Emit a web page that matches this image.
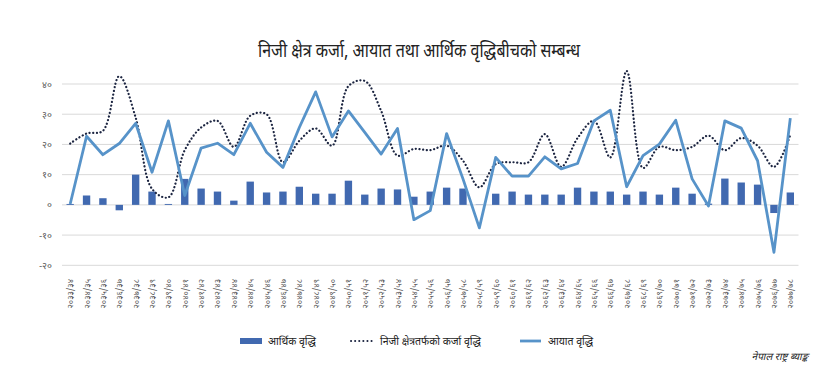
<!DOCTYPE html>
<html>
<head>
<meta charset="utf-8">
<script src="https://cdn.jsdelivr.net/npm/d3@7"></script>
<style>
  body { margin: 0; background: #fff; }
  text { font-family: "Noto Sans Devanagari", "Noto Sans", sans-serif; }
</style>
</head>
<body>
<div id="chart"></div>
<script>
const years = [
  '२०३३/३४', '२०३४/३५', '२०३५/३६', '२०३६/३७', '२०३७/३८', '२०३८/३९', '२०३९/४०', '२०४०/४१', '२०४१/४२',
  '२०४२/४३', '२०४३/४४', '२०४४/४५', '२०४५/४६', '२०४६/४७', '२०४७/४८', '२०४८/४९', '२०४९/५०', '२०५०/५१',
  '२०५१/५२', '२०५२/५३', '२०५३/५४', '२०५४/५५', '२०५५/५६', '२०५६/५७', '२०५७/५८', '२०५८/५९', '२०५९/६०',
  '२०६०/६१', '२०६१/६२', '२०६२/६३', '२०६३/६४', '२०६४/६५', '२०६५/६६', '२०६६/६७', '२०६७/६८', '२०६८/६९',
  '२०६९/७०', '२०७०/७१', '२०७१/७२', '२०७२/७३', '२०७३/७४', '२०७४/७५', '२०७५/७६', '२०७६/७७', '२०७७/७८'
]

// आर्थिक वृद्धि
const gdpGrowth = [
  0.3, 3.1, 2.2, -1.8, 10.0, 4.4, 0.3, 8.6, 5.4, 4.4, 1.4, 7.7, 4.1, 4.4, 6.0,
  3.7, 3.7, 8.0, 3.4, 5.4, 5.1, 2.7, 4.4, 5.7, 5.4, 0.1, 3.7, 4.4, 3.4, 3.4,
  3.4, 5.7, 4.4, 4.4, 3.4, 4.4, 3.4, 5.7, 3.7, 0.4, 8.7, 7.4, 6.7, -2.7, 4.1
]

// निजी क्षेत्रतर्फको कर्जा वृद्धि
const creditGrowth = [
  20.3, 23.6, 24.5, 42.6, 28.9, 5.3, 2.5, 18.1, 25.6, 27.8, 19.2, 29.5, 30.0, 14.1, 21.2,
  25.3, 19.6, 39.3, 41.0, 31.1, 16.3, 18.5, 18.1, 19.6, 14.6, 5.8, 13.5, 14.1, 14.1, 23.4,
  12.6, 22.1, 27.8, 15.7, 44.3, 12.2, 19.2, 18.1, 19.2, 22.9, 18.1, 22.1, 19.6, 12.6, 23.2
]

// आयात वृद्धि
const importGrowth = [
  0.3, 22.7, 16.6, 20.3, 27.0, 10.8, 27.8, 3.1, 18.8, 20.4, 16.6, 27.0, 17.4, 12.4, 25.6,
  37.4, 22.5, 31.1, 24.0, 16.8, 25.3, -4.9, -1.9, 23.6, 8.6, -7.6, 15.7, 9.5, 9.5, 15.9,
  11.9, 13.7, 27.8, 31.3, 6.0, 16.3, 20.1, 28.0, 8.6, -0.4, 27.8, 25.4, 14.6, -15.7, 28.7
]

const yTicks = [-20, -10, 0, 10, 20, 30, 40]
const yTickLabels = ['-२०', '-१०', '०', '१०', '२०', '३०', '४०']

const title = 'निजी क्षेत्र कर्जा, आयात तथा आर्थिक वृद्धिबीचको सम्बन्ध'
const seriesNames = ['आर्थिक वृद्धि', 'निजी क्षेत्रतर्फको कर्जा वृद्धि', 'आयात वृद्धि']
const source = 'नेपाल राष्ट्र ब्याङ्क'

let width = 835
let height = 387

let barColor = '#4169b0'
let lineColor = '#5793c9'
let dotColor = '#1c2541'

let svg = d3
  .select('#chart')
  .append('svg')
  .attr('width', width)
  .attr('height', height)

/* Scale */
let xScale = d3
  .scaleBand()
  .domain(years)
  .range([62, 798.5])
  .paddingInner(0.55)
  .paddingOuter(0.275)

let yScale = d3
  .scaleLinear()
  .domain([-20, 40])
  .range([265.3, 84])

let cx = d => xScale(d) + xScale.bandwidth() / 2

/* Grid */
svg
  .append('g')
  .selectAll('line')
  .data(yTicks)
  .enter()
  .append('line')
  .attr('x1', 62)
  .attr('x2', 798.5)
  .attr('y1', d => yScale(d))
  .attr('y2', d => yScale(d))
  .attr('stroke', '#d9d9d9')
  .attr('stroke-width', 1)

/* Y labels */
svg
  .append('g')
  .selectAll('text')
  .data(yTicks)
  .enter()
  .append('text')
  .attr('x', 52)
  .attr('y', d => yScale(d) + 3.5)
  .attr('text-anchor', 'end')
  .attr('font-size', '9.5px')
  .attr('fill', '#595959')
  .text((d, i) => yTickLabels[i])

/* X labels */
svg
  .append('g')
  .selectAll('text')
  .data(years)
  .enter()
  .append('text')
  .attr('transform', d => `translate(${cx(d) + 3}, 279) rotate(-90)`)
  .attr('text-anchor', 'end')
  .attr('font-size', '8.3px')
  .attr('fill', '#595959')
  .text(d => d)

/* Bars */
svg
  .append('g')
  .selectAll('rect')
  .data(gdpGrowth)
  .enter()
  .append('rect')
  .attr('x', (d, i) => xScale(years[i]))
  .attr('width', xScale.bandwidth())
  .attr('y', d => yScale(Math.max(0, d)))
  .attr('height', d => Math.abs(yScale(d) - yScale(0)))
  .attr('fill', barColor)

/* Lines */
let importLine = d3
  .line()
  .x((d, i) => cx(years[i]))
  .y(d => yScale(d))

let creditLine = d3
  .line()
  .x((d, i) => cx(years[i]))
  .y(d => yScale(d))
  .curve(d3.curveCatmullRom.alpha(0.5))

svg
  .append('path')
  .attr('d', creditLine(creditGrowth))
  .attr('fill', 'none')
  .attr('stroke', dotColor)
  .attr('stroke-width', 2.2)
  .attr('stroke-dasharray', '0.1 3.6')
  .attr('stroke-linecap', 'round')

svg
  .append('path')
  .attr('d', importLine(importGrowth))
  .attr('fill', 'none')
  .attr('stroke', lineColor)
  .attr('stroke-width', 2.8)
  .attr('stroke-linejoin', 'round')

/* Title */
svg
  .append('text')
  .attr('x', 419)
  .attr('y', 57)
  .attr('text-anchor', 'middle')
  .attr('font-size', '19px')
  .attr('textLength', 322)
  .attr('lengthAdjust', 'spacingAndGlyphs')
  .attr('fill', '#222')
  .text(title)

/* Legend */
let legend = svg.append('g').attr('font-size', '10.5px').attr('fill', '#222')

legend
  .append('rect')
  .attr('x', 240)
  .attr('y', 338)
  .attr('width', 22)
  .attr('height', 6)
  .attr('fill', barColor)

legend.append('text').attr('x', 268).attr('y', 345).text(seriesNames[0])

legend
  .append('line')
  .attr('x1', 351)
  .attr('x2', 372)
  .attr('y1', 341)
  .attr('y2', 341)
  .attr('stroke', dotColor)
  .attr('stroke-width', 2)
  .attr('stroke-dasharray', '0.1 4')
  .attr('stroke-linecap', 'round')

legend.append('text').attr('x', 380).attr('y', 345).text(seriesNames[1])

legend
  .append('line')
  .attr('x1', 520)
  .attr('x2', 541)
  .attr('y1', 341)
  .attr('y2', 341)
  .attr('stroke', lineColor)
  .attr('stroke-width', 2.8)

legend.append('text').attr('x', 548).attr('y', 345).text(seriesNames[2])

/* Source */
svg
  .append('text')
  .attr('x', 808)
  .attr('y', 360)
  .attr('text-anchor', 'end')
  .attr('font-size', '10px')
  .attr('font-style', 'italic')
  .attr('fill', '#222')
  .text(source)
</script>
</body>
</html>
